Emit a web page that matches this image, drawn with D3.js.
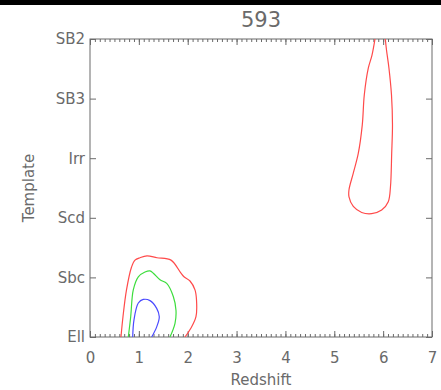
<!DOCTYPE html>
<html><head><meta charset="utf-8">
<script src="https://cdn.jsdelivr.net/npm/d3@7"></script>
<style>html,body{margin:0;padding:0;background:#fff;}svg{display:block;}</style>
</head><body>
<svg id="c" width="441" height="390"></svg>
<script>
const title = "593";
const templates = ["Ell","Sbc","Scd","Irr","SB3","SB2"];
const xTicks = [0,1,2,3,4,5,6,7];
// contour paths: [redshift, template index]
const redHigh = [[5.843,5.05],[5.772,4.73],[5.696,4.51],[5.614,4.06],[5.573,3.56],[5.491,3.08],[5.389,2.75],[5.301,2.47],[5.301,2.35],[5.389,2.19],[5.561,2.09],[5.765,2.07],[5.970,2.13],[6.105,2.27],[6.150,2.52],[6.175,3.08],[6.191,3.56],[6.171,4.06],[6.119,4.51],[6.068,4.82],[6.038,5.05]];
const redLow = [[0.634,0],[0.675,0.34],[0.747,0.79],[0.849,1.17],[0.921,1.29],[1.023,1.33],[1.167,1.36],[1.371,1.33],[1.658,1.29],[1.862,1.07],[1.924,1.01],[2.047,0.94],[2.149,0.79],[2.180,0.62],[2.169,0.34],[2.067,0.15],[1.944,0]];
const greenC = [[0.784,0],[0.833,0.34],[0.886,0.79],[0.989,1.01],[1.126,1.09],[1.228,1.11],[1.296,1.07],[1.433,0.96],[1.570,0.90],[1.705,0.68],[1.760,0.45],[1.740,0.23],[1.637,0]];
const blueC = [[0.874,0],[0.901,0.29],[0.989,0.57],[1.091,0.63],[1.228,0.61],[1.365,0.48],[1.418,0.34],[1.365,0.17],[1.263,0]];

const L=90,R=432,T=39,B=337;
const svg=d3.select("#c");
svg.append("rect").attr("x",0).attr("y",0).attr("width",441).attr("height",5).attr("fill","#000");
const x=d3.scaleLinear().domain([0,7]).range([L,R]);
const y=d3.scaleLinear().domain([0,5]).range([B,T]);
const axisCol="#6a6a6a", textCol="#6a6a6a", font="DejaVu Sans, sans-serif";

svg.append("defs").append("clipPath").attr("id","clip").append("rect")
  .attr("x",L).attr("y",T).attr("width",R-L).attr("height",B-T);

const minor=d3.range(0,70.5,1).map(d=>d/10);
function style(g){g.select(".domain").remove();g.selectAll("line").attr("stroke",axisCol);g.selectAll("text").attr("fill",textCol).attr("font-family",font).attr("font-size",15);}
svg.append("g").attr("transform",`translate(0,${B})`).call(d3.axisBottom(x).tickValues(minor).tickSize(-3).tickFormat("")).call(style);
svg.append("g").attr("transform",`translate(0,${B})`).call(d3.axisBottom(x).tickValues(xTicks).tickSize(-6).tickPadding(15).tickFormat(d3.format("d"))).call(style);
svg.append("g").attr("transform",`translate(0,${T})`).call(d3.axisTop(x).tickValues(minor).tickSize(-3).tickFormat("")).call(style);
svg.append("g").attr("transform",`translate(0,${T})`).call(d3.axisTop(x).tickValues(xTicks).tickSize(-6).tickFormat("")).call(style);
svg.append("g").attr("transform",`translate(${L},0)`).call(d3.axisLeft(y).tickValues(d3.range(templates.length)).tickSize(-6).tickPadding(5).tickFormat(i=>templates[i])).call(style);
svg.append("g").attr("transform",`translate(${R},0)`).call(d3.axisRight(y).tickValues(d3.range(templates.length)).tickSize(-6).tickFormat("")).call(style);
svg.append("rect").attr("x",L).attr("y",T).attr("width",R-L).attr("height",B-T).attr("fill","none").attr("stroke",axisCol).attr("stroke-width",1);

const line=d3.line().x(d=>x(d[0])).y(d=>y(d[1])).curve(d3.curveCatmullRom.alpha(0.5));
const cg=svg.append("g").attr("clip-path","url(#clip)");
[[redHigh,"#ff4a4a"],[redLow,"#ff4a4a"],[greenC,"#3ddd3d"],[blueC,"#4a4aff"]].forEach(([d,c])=>{
  cg.append("path").datum(d).attr("d",line).attr("fill","none").attr("stroke",c).attr("stroke-width",1.2);
});

svg.append("text").attr("x",(L+R)/2).attr("y",27).attr("text-anchor","middle").attr("fill",textCol).attr("font-family",font).attr("font-size",21).text(title);
svg.append("text").attr("x",(L+R)/2).attr("y",385).attr("text-anchor","middle").attr("fill",textCol).attr("font-family",font).attr("font-size",15).text("Redshift");
svg.append("text").attr("transform",`translate(34,${(T+B)/2}) rotate(-90)`).attr("text-anchor","middle").attr("fill",textCol).attr("font-family",font).attr("font-size",15).text("Template");
</script>
</body></html>
